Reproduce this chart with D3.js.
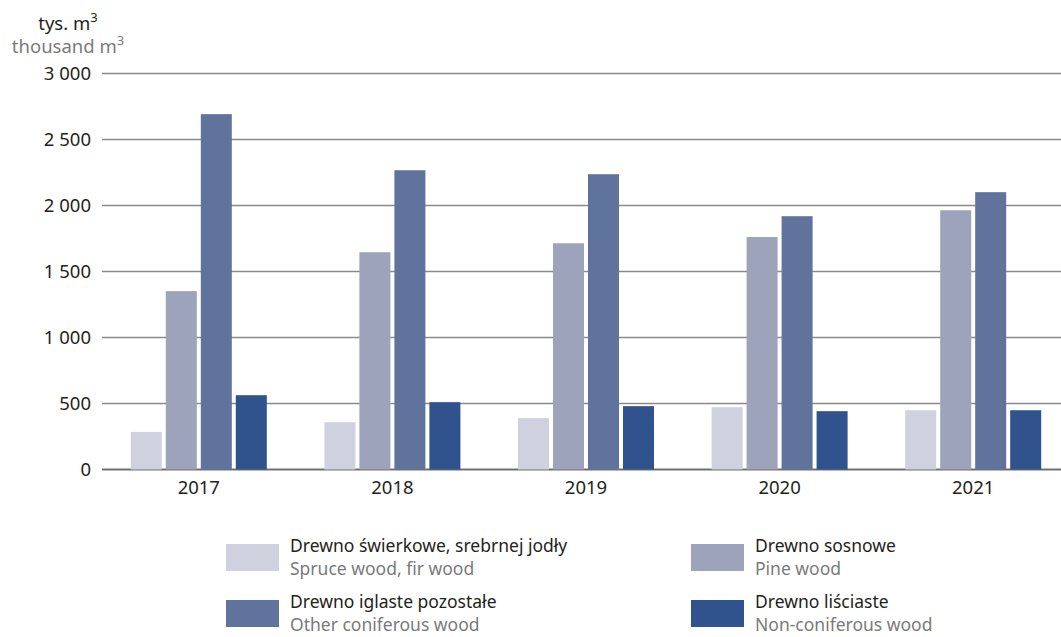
<!DOCTYPE html>
<html>
<head>
<meta charset="utf-8">
<script src="https://cdn.jsdelivr.net/npm/d3@7"></script>
<style>
  body { margin: 0; background: #fff; }
  svg { display: block; font-family: "Noto Sans", sans-serif; }
</style>
</head>
<body>
<div id="chart"></div>
<script>
// dane (tys. m3)
var years = ["2017", "2018", "2019", "2020", "2021"];
var seriesKeys = ["spruce", "pine", "other", "nonconif"];
var spruce   = [285, 358, 389, 472, 449];
var pine     = [1351, 1646, 1714, 1761, 1964];
var other    = [2692, 2267, 2237, 1919, 2101];
var nonconif = [563, 510, 480, 442, 449];
var yTicks = [0, 500, 1000, 1500, 2000, 2500, 3000];
var legendPl = ["Drewno świerkowe, srebrnej jodły", "Drewno sosnowe", "Drewno iglaste pozostałe", "Drewno liściaste"];
var legendEn = ["Spruce wood, fir wood", "Pine wood", "Other coniferous wood", "Non-coniferous wood"];
var colors = ["#cfd2de", "#9ca3ba", "#60739c", "#30538d"];

var W = 1061, H = 637;
var FS = 18.5;
var values = { spruce: spruce, pine: pine, other: other, nonconif: nonconif };

var svg = d3.select("#chart").append("svg")
    .attr("width", W)
    .attr("height", H);

// skale
var x0 = d3.scaleBand().domain(years).range([102, 1070]).padding(0);
var x1 = d3.scaleBand().domain(seriesKeys).range([-68, 68]).paddingInner(0.114).paddingOuter(0);
var y = d3.scaleLinear().domain([0, 3000]).range([469.5, 73.5]);

var locale = d3.formatLocale({ decimal: ",", thousands: "\u00a0", grouping: [3], currency: ["", ""] });
var fmt = locale.format(",d");

// siatka
svg.append("g")
    .selectAll("line")
    .data(yTicks)
    .enter().append("line")
    .attr("x1", 102)
    .attr("x2", W)
    .attr("y1", d => y(d))
    .attr("y2", d => y(d))
    .attr("stroke", d => d === 0 ? "#707070" : "#8a8a8a")
    .attr("stroke-width", d => d === 0 ? 2 : 1.4);

// oś Y
var yAxis = svg.append("g")
    .attr("transform", "translate(91,0)")
    .call(d3.axisLeft(y).tickValues(yTicks).tickFormat(fmt).tickSize(0).tickPadding(0));
yAxis.select(".domain").remove();
yAxis.selectAll("text")
    .attr("font-family", "Noto Sans")
    .attr("font-size", FS)
    .attr("fill", "#231f20");

// jednostki
var unit1 = svg.append("text")
    .attr("x", 68).attr("y", 30)
    .attr("text-anchor", "middle")
    .attr("font-size", FS)
    .attr("fill", "#231f20");
unit1.append("tspan").text("tys. m");
unit1.append("tspan").attr("dy", -8).attr("font-size", 13).text("3");

var unit2 = svg.append("text")
    .attr("x", 68).attr("y", 53)
    .attr("text-anchor", "middle")
    .attr("font-size", FS)
    .attr("fill", "#7a7a7a");
unit2.append("tspan").text("thousand m");
unit2.append("tspan").attr("dy", -8).attr("font-size", 13).text("3");

// słupki
var groups = svg.append("g")
    .selectAll("g")
    .data(years)
    .enter().append("g")
    .attr("transform", d => "translate(" + (x0(d) + x0.bandwidth() / 2) + ",0)");

groups.selectAll("rect")
    .data((d, i) => seriesKeys.map(k => ({ key: k, value: values[k][i] })))
    .enter().append("rect")
    .attr("x", d => x1(d.key))
    .attr("width", x1.bandwidth())
    .attr("y", d => y(d.value))
    .attr("height", d => y(0) - y(d.value))
    .attr("fill", (d, i) => colors[i]);

// oś X
var xAxis = svg.append("g")
    .attr("transform", "translate(0,478)")
    .call(d3.axisBottom(x0).tickSize(0).tickPadding(0));
xAxis.select(".domain").remove();
xAxis.selectAll("text")
    .attr("font-family", "Noto Sans")
    .attr("font-size", FS)
    .attr("fill", "#231f20")
    .attr("dy", "0.85em");

// legenda
var legendPos = [[226, 544], [691, 544], [226, 600], [691, 600]];
var legend = svg.append("g")
    .selectAll("g")
    .data(legendPl)
    .enter().append("g")
    .attr("transform", (d, i) => "translate(" + legendPos[i][0] + "," + legendPos[i][1] + ")");

legend.append("rect")
    .attr("width", 53)
    .attr("height", 27)
    .attr("fill", (d, i) => colors[i]);

legend.append("text")
    .attr("x", 64)
    .attr("y", 8)
    .attr("font-size", 17.5)
    .attr("fill", "#231f20")
    .text(d => d);

legend.append("text")
    .attr("x", 64)
    .attr("y", 31)
    .attr("font-size", 17.5)
    .attr("fill", "#7a7a7a")
    .text((d, i) => legendEn[i]);
</script>
</body>
</html>
